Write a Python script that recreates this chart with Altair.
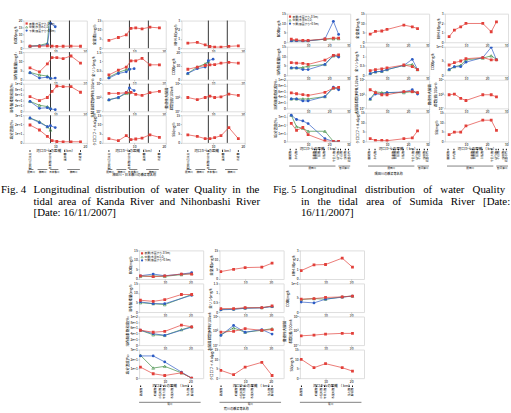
import altair as alt
import pandas as pd

RED, GREEN, BLUE = "#e2403a", "#3d8b42", "#2d5cc4"
JP = "Noto Sans CJK JP"
SERIF = "Liberation Serif"

# ---------------- stations (km from river mouth) ----------------
F4_KM_S = [2, 5, 7.5, 9, 10.5, 12.5, 15, 18]
F4_KM_M = [2, 5, 7.5, 8.5]
F4_KM_B = [2, 5, 7.5, 8.5, 10]
F5_KM = [2, 4.5, 7.5, 10, 18, 22, 24.5]
F6_KM = [0.5, 5.5, 10, 16.5, 20.5]

# ---------------- Fig 4 : Kanda / Nihonbashi ----------------
F4_BOD_S = [1.5, 1.4, 1.6, 1.5, 1.3, 1.4, 1.5, 1.4]
F4_BOD_M = [1.5, 2.0, 3.5, 30.0]
F4_BOD_B = [1.4, 1.7, 2.5, 18.0, 15.5]
F4_TN_S = [4.2, 5.8, 7.2, 10.8, 11.0, 10.5, 11.4, 11.0]
F4_NH4_S = [0.55, 0.62, 0.35, 0.18, 0.12, 0.12, 0.2, 0.25]
F4_DO_S = [6.4, 4.3, 8.6, 12.0, 12.0, 11.5, 12.9, 9.0]
F4_DO_M = [4.0, 2.6, 2.0, 1.0]
F4_DO_B = [3.8, 0.9, 1.4, 0.7, 0.9]
F4_TP_S = [0.26, 0.52, 0.69, 1.03, 1.03, 1.16, 0.81, 0.81]
F4_TP_M = [0.14, 0.40, 0.55, 0.60]
F4_TP_B = [0.09, 0.34, 0.43, 0.57, 0.60]
F4_COD_S = [7.6, 9.2, 10.3, 10.8, 11.0, 12.0, 12.6, 12.0]
F4_COD_M = [4.6, 9.2, 11.5, 13.3]
F4_COD_B = [4.6, 8.0, 9.2, 13.8, 14.9]
F4_DOS_S = [53, 39, 50, 72, 91, 89, 89, 69]
F4_DOS_M = [36, 22, 17, 11]
F4_DOS_B = [36, 11, 13, 9, 6]
F4_COLI_S = [3.6, 3.6, 3.7, 3.75, 3.45, 3.3, 3.7, 3.9]
F4_COLI_M = [2.7, 3.0, 3.6, 3.7]
F4_COLI_B = [2.65, 3.0, 3.75, 4.4, 4.0]
F4_FCOLI_S = [3.0, 2.7, 3.0, 3.2, 3.0, 3.1, 3.5, 3.3]
F4_SAL_S = [19.4, 14.0, 7.0, 2.5, 1.5, 1.2, 1.2, 1.2]
F4_SAL_M = [27.0, 23.0, 17.6, 14.0]
F4_SAL_B = [27.0, 22.0, 17.6, 18.7, 16.6]
F4_CHL_S = [2.3, 1.2, 3.9, 1.8, 2.1, 2.6, 4.4, 3.0]
F4_SS_S = [4.4, 3.5, 2.3, 2.3, 2.8, 3.9, 8.3, 2.3]
F4_VLINES = [8.5, 14.5]

# ---------------- Fig 5 : Sumida ----------------
F5_BOD_S = [1.6, 1.2, 1.0, 1.0, 1.7, 2.2, 2.2]
F5_BOD_M = [0.8, 0.9, 0.7, 0.8, 1.6, 1.8, 1.9]
F5_BOD_B = [0.6, 0.7, 0.6, 0.7, 1.7, 11.0, 4.1]
F5_TN_S = [4.3, 5.7, 5.9, 6.7, 9.0, 8.1, 7.2]
F5_NH4_S = [0.59, 1.28, 1.62, 1.97, 1.97, 1.1, 2.14]
F5_DO_S = [6.6, 6.4, 6.3, 5.7, 8.0, 10.5, 10.7]
F5_DO_M = [3.9, 3.9, 4.1, 4.8, 5.7, 10.2, 10.2]
F5_DO_B = [3.9, 3.9, 3.0, 3.0, 5.7, 10.5, 9.6]
F5_TP_S = [0.25, 0.30, 0.34, 0.39, 0.54, 0.45, 0.30]
F5_TP_M = [0.09, 0.18, 0.21, 0.30, 0.52, 0.57, 0.30]
F5_TP_B = [0.09, 0.18, 0.21, 0.30, 0.52, 0.84, 0.30]
F5_COD_S = [3.6, 4.4, 5.0, 5.8, 6.2, 5.4, 5.4]
F5_COD_M = [2.0, 3.0, 3.5, 5.4, 6.0, 6.8, 5.6]
F5_COD_B = [2.0, 3.0, 3.0, 4.6, 6.2, 9.8, 5.4]
F5_DOS_S = [54, 51, 48, 45, 56, 71, 73]
F5_DOS_M = [33, 33, 33, 33, 41, 71, 71]
F5_DOS_B = [33, 33, 26, 26, 41, 74, 65]
F5_COLI_S = [3.6, 3.2, 2.9, 2.9, 3.35, 3.35, 3.2]
F5_COLI_M = [2.3, 3.3, 3.2, 3.2, 3.2, 3.35, 3.2]
F5_COLI_B = [2.3, 3.0, 3.0, 3.2, 3.3, 3.6, 3.0]
F5_FCOLI_S = [2.9, 3.0, 2.4, 2.1, 2.9, 2.9, 2.6]
F5_SAL_S = [22.0, 13.6, 17.0, 8.2, 0.5, 0.0, 0.0]
F5_SAL_M = [32.0, 18.0, 16.0, 12.4, 12.4, 0.0, 0.0]
F5_SAL_B = [32.0, 26.8, 25.0, 21.8, 3.3, 0.0, 0.0]
F5_CHL_S = [1.4, 0.5, 0.5, 0.35, 1.4, 1.8, 5.5]
F5_SS_S = [3.5, 4.9, 4.9, 8.1, 11.1, 11.1, 5.8]

# ---------------- Fig 6 : Arakawa ----------------
F6_BOD_S = [1.7, 1.2, 1.6, 2.6, 2.6]
F6_BOD_M = [1.4, 1.6, 1.4, 2.3, 2.9]
F6_BOD_B = [1.7, 2.6, 1.7, 2.6, 3.3]
F6_TN_S = [3.9, 5.1, 6.0, 6.2, 8.3]
F6_NH4_S = [0.88, 1.48, 1.52, 2.19, 1.24]
F6_DO_S = [6.2, 5.6, 6.5, 9.2, 9.2]
F6_DO_M = [4.9, 4.4, 3.9, None, 9.2]
F6_DO_B = [5.3, 4.4, 4.4, None, 8.8]
F6_TP_S = [0.18, 0.18, 0.23, 0.23, 0.32]
F6_TP_M = [0.14, 0.16, 0.21, 0.23, 0.30]
F6_TP_B = [0.12, 0.14, 0.20, 0.22, 0.29]
F6_COD_S = [4.5, 4.7, 5.1, 5.3, 5.6]
F6_COD_M = [4.4, 4.7, 4.5, 5.3, 5.6]
F6_COD_B = [3.5, 3.2, 4.5, 5.2, 5.6]
F6_DOS_S = [52, 45, 48, 70, 64]
F6_DOS_M = [52, 36, 34, 54, 64]
F6_DOS_B = [52, 40, 34, None, 63]
F6_COLI_S = [2.83, 2.93, 3.3, 3.07, 3.17]
F6_COLI_M = [2.45, 3.4, 2.8, 3.07, 3.3]
F6_COLI_B = [2.35, 3.75, 2.8, 3.17, 2.54]
F6_FCOLI_S = [2.3, 2.4, 2.54, 2.64, 2.64]
F6_SAL_S = [11.6, 4.6, 2.8, 5.6, 0.0]
F6_SAL_M = [24.0, 10.6, 12.4, 5.6, 0.0]
F6_SAL_B = [23.3, 23.3, 17.0, 6.4, 0.0]
F6_CHL_S = [4.1, 1.8, 5.8, 8.3, 1.4]
F6_SS_S = [9.9, 5.5, 7.6, 5.5, 3.7]

# ---------------- labels ----------------
T_BOD, T_TN, T_NH4 = "BOD(mg/l)", "全窒素(mg/l)", "NH4-N(mg/l)"
T_DO, T_TP, T_COD = "溶存酸素量(mg/l)", "全リン(mg/l)", "COD(mg/l)"
T_DOS, T_COLI, T_FCOLI = "溶存酸素飽和度(%)", "大腸菌群数(MPN/100ml)", ["糞便性大腸菌", "群数(個/100ml)"]
T_SAL, T_CHL, T_SS = "塩分濃度(‰)", "クロロフィルa(μg/l)", "SS(mg/l)"
X_TITLE = "河口からの距離 （ km）"
LEG_NAME = ["表層(水面から-0.5m)", "中層(水深の1/2)", "下層(底面から+0.5m)"]

F4_LM_KM = [2, 8.5, 13, 18]
F4_LM_NAME = ["隅田川合流点", "日本橋川分派", "飯田橋", "水道橋"]
F4_BR_A = [1.6, 4.4, 8.4, 13.8]
F4_BR_B = [3.1, 7.5, 11.0, 17.8]
F4_BR_NAME = ["隅田川", "神田川", "日本橋川", "神田川"]
F4_BOTTOM = "神田川・日本橋川の橋梁等名称"

F5_LM_KM = [1.5, 4.3, 13, 13.8, 15.4, 17.7, 22.3, 24.3, 25.4, 27.7, 29.2]
F5_LM_NAME = ["勝鬨橋", "永代橋", "吾妻橋", "言問橋", "桜橋", "白鬚橋", "千住大橋", "尾竹橋", "小台橋", "新田橋", "岩淵水門"]
F5_BR_A = [1.0, 24.4]
F5_BR_B = [23.0, 30.0]
F5_BR_NAME = ["隅田川", "新河岸川"]
F5_BOTTOM = "隅田川の橋梁等名称"

F6_LM_KM = [0.6, 6.4, 8.3, 9.6, 12.8, 19.2, 20.5]
F6_LM_NAME = ["葛西橋", "船堀橋", "小松川橋", "平井大橋", "木根川橋", "扇大橋", "鹿浜橋"]
F6_BR_A = [0.0]
F6_BR_B = [24.0]
F6_BR_NAME = ["荒川"]
F6_BOTTOM = "荒川の橋梁等名称"

NB = "\u00a0"
CAP4_HEAD = "Fig. 4"
CAP4 = [f"Longitudinal{NB} distribution{NB} of{NB} water{NB} Quality{NB} in{NB} the",
        f"tidal{NB} area{NB} of{NB} Kanda{NB} River{NB} and{NB} Nihonbashi{NB} River",
        "[Date: 16/11/2007]"]
CAP5_HEAD = "Fig. 5"
CAP5 = [f"Longitudinal{NB}{NB} distribution{NB}{NB} of{NB}{NB} water{NB}{NB} Quality",
        f"in{NB}{NB} the{NB}{NB} tidal{NB}{NB} area{NB}{NB} of{NB}{NB} Sumida{NB}{NB} River{NB}{NB} [Date:",
        "16/11/2007]"]

STYLE = {"S": (RED, "square", True), "M": (GREEN, "triangle-up", False), "B": (BLUE, "circle", True)}
ONE = pd.DataFrame({"a": [0]})
HIDDEN = alt.ViewBackground(strokeOpacity=0)


def xenc(dom, ticks, title):
    return alt.X("km:Q", scale=alt.Scale(domain=dom, nice=False, zero=False),
                 axis=alt.Axis(values=ticks, title=title, labelFontSize=3.4, labelPadding=0.4,
                               tickSize=1.2, tickWidth=0.5, domain=False, grid=False,
                               titleFontSize=3.6, titlePadding=0.5, titleFontWeight="normal",
                               labelFont=JP, titleFont=JP, labelColor="black", titleColor="black"))


def yenc(dom, ticks, title, log):
    kw = dict(values=ticks, title=title, labelFontSize=3.4, labelPadding=0.6, tickSize=1.2,
              tickWidth=0.5, domain=False, grid=False, titleFontSize=3.6, titlePadding=0.8,
              titleFontWeight="normal", labelFont=JP, titleFont=JP, labelColor="black",
              titleColor="black")
    if log:
        kw["labelExpr"] = "'10' + ['⁰','¹','²','³','⁴','⁵','⁶','⁷'][datum.value]"
    else:
        kw["format"] = "~g"
    return alt.Y("v:Q", scale=alt.Scale(domain=dom, nice=False, zero=False), axis=alt.Axis(**kw))


def anchor(x1, x2, y1, y2):
    # invisible box that fixes the outer extent of a figure block
    return alt.Chart(ONE).mark_rect(opacity=0).encode(
        x=alt.value(x1), x2=alt.value(x2), y=alt.value(y1), y2=alt.value(y2))


def series_layers(km, vals, kind, X, Y):
    df = pd.DataFrame({"km": km[:len(vals)], "v": vals}).dropna()
    color, shape, filled = STYLE[kind]
    base = alt.Chart(df).encode(x=X, y=Y)
    return [base.mark_line(color=color, strokeWidth=0.7, clip=True),
            base.mark_point(shape=shape, filled=filled, color=color, size=8, strokeWidth=0.6,
                            opacity=1, clip=True)]


def legend_layers():
    out = []
    for i, (name, kind) in enumerate(zip(LEG_NAME, ["S", "M", "B"])):
        color, shape, filled = STYLE[kind]
        yy = 3 + i * 3.6
        out.append(alt.Chart(ONE).mark_point(shape=shape, filled=filled, color=color, size=5,
                                             strokeWidth=0.5, opacity=1)
                   .encode(x=alt.value(3), y=alt.value(yy)))
        out.append(alt.Chart(ONE).mark_text(text=name, align="left", baseline="middle", fontSize=2.8,
                                            font=JP, color="black")
                   .encode(x=alt.value(5.5), y=alt.value(yy)))
    return out


def under_layers(X, H, lm_km, lm_name, br_a, br_b, br_name, br_y):
    out = []
    lm = pd.DataFrame({"km": lm_km, "name": lm_name})
    out.append(alt.Chart(lm).mark_rule(color="black", strokeWidth=1.0)
               .encode(x=X, y=alt.value(H + 7.5), y2=alt.value(H + 9)))
    out.append(alt.Chart(lm).mark_text(angle=270, align="right", baseline="middle", fontSize=2.8,
                                       font=JP, color="black")
               .encode(x=X, y=alt.value(H + 10), text="name:N"))
    br = pd.DataFrame({"km": br_a, "km2": br_b})
    out.append(alt.Chart(br).mark_rule(color="black", strokeWidth=0.5)
               .encode(x=X, x2="km2:Q", y=alt.value(H + br_y)))
    mid = pd.DataFrame({"km": [(a + b) / 2 for a, b in zip(br_a, br_b)], "name": br_name})
    out.append(alt.Chart(mid).mark_text(baseline="top", fontSize=2.6, font=JP, color="black")
               .encode(x=X, y=alt.value(H + br_y + 1.2), text="name:N"))
    return out


def panel(W, H, xdom, xticks, title, ydom, yticks, series, km, log=False, row4=None,
          legend=False, vlines=None, extra=None):
    X = xenc(xdom, xticks, X_TITLE if row4 else "")
    Y = yenc(ydom, yticks, title, log)
    layers = []
    if vlines:
        layers.append(alt.Chart(pd.DataFrame({"km": vlines})).mark_rule(color="black", strokeWidth=0.8)
                      .encode(x=X))
    for kind in ["M", "B", "S"]:
        if kind in series:
            layers += series_layers(km[kind], series[kind], kind, X, Y)
    if legend:
        layers += legend_layers()
    if row4:
        layers += under_layers(X, H, *row4)
    if extra:
        layers += extra
    return alt.layer(*layers).properties(width=W, height=H)


def blank(w, h):
    return anchor(0, w, 0, h).properties(width=w, height=h, view=HIDDEN)


def caption(head, lines, xh, xb, yb, hsize=11):
    return [alt.Chart(ONE).mark_text(text=head, align="left", baseline="alphabetic", font=SERIF,
                                     fontSize=hsize, color="black")
            .encode(x=alt.value(xh), y=alt.value(yb)),
            alt.Chart(ONE).mark_text(text=lines, align="left", baseline="alphabetic", font=SERIF,
                                     fontSize=11, lineHeight=11.6, color="black")
            .encode(x=alt.value(xb), y=alt.value(yb))]


def center_label(text, x, y):
    return [alt.Chart(ONE).mark_text(text=text, align="center", baseline="middle", fontSize=3.2,
                                     font=JP, color="black")
            .encode(x=alt.value(x), y=alt.value(y))]


def grid(cells, hs, vs):
    return alt.concat(*cells, columns=3, spacing={"row": vs, "column": hs}, bounds="flush",
                      align="each")


# ---------------- Fig 4 ----------------
W4, H4 = 64, 28
d4, t4 = [0, 20], [10, 20]
K4 = {"S": F4_KM_S, "M": F4_KM_M, "B": F4_KM_B}
br4 = (F4_LM_KM, F4_LM_NAME, F4_BR_A, F4_BR_B, F4_BR_NAME, 27)
p4 = lambda *a, **k: panel(W4, H4, d4, t4, *a, km=K4, vlines=F4_VLINES, **k)
fig4 = grid([
    blank(W4, 3), blank(W4, 3), blank(W4, 3),
    p4(T_BOD, [0, 20], [0, 5, 10, 15, 20], {"S": F4_BOD_S, "M": F4_BOD_M, "B": F4_BOD_B}, legend=True),
    p4(T_TN, [0, 15], [0, 5, 10, 15], {"S": F4_TN_S}),
    p4(T_NH4, [0, 3], [0, 1, 2, 3], {"S": F4_NH4_S}),
    p4(T_DO, [0, 15], [0, 5, 10, 15], {"S": F4_DO_S, "M": F4_DO_M, "B": F4_DO_B}),
    p4(T_TP, [0, 1.5], [0, 0.5, 1, 1.5], {"S": F4_TP_S, "M": F4_TP_M, "B": F4_TP_B}),
    p4(T_COD, [0, 20], [0, 10, 20], {"S": F4_COD_S, "M": F4_COD_M, "B": F4_COD_B}),
    p4(T_DOS, [0, 100], [0, 20, 40, 60, 80, 100], {"S": F4_DOS_S, "M": F4_DOS_M, "B": F4_DOS_B}),
    p4(T_COLI, [1, 5], [1, 3, 5], {"S": F4_COLI_S, "M": F4_COLI_M, "B": F4_COLI_B}, log=True),
    p4(T_FCOLI, [1, 5], [1, 3, 5], {"S": F4_FCOLI_S}, log=True),
    p4(T_SAL, [0, 30], [0, 10, 20, 30], {"S": F4_SAL_S, "M": F4_SAL_M, "B": F4_SAL_B}, row4=br4,
       extra=caption(CAP4_HEAD, CAP4, -23, 10, 79) + [anchor(-23, 0, H4, 112)]),
    p4(T_CHL, [0, 15], [0, 5, 10, 15], {"S": F4_CHL_S}, row4=br4,
       extra=center_label(F4_BOTTOM, W4 / 2, 61)),
    p4(T_SS, [0, 15], [0, 5, 10, 15], {"S": F4_SS_S}, row4=br4,
       extra=[anchor(0, W4 + 25, H4, 112)]),
], 16, 4)

# ---------------- Fig 5 ----------------
W5, H5 = 64, 29
d5, t5 = [0, 30], [10, 20, 30]
K5 = {"S": F5_KM, "M": F5_KM, "B": F5_KM}
br5 = (F5_LM_KM, F5_LM_NAME, F5_BR_A, F5_BR_B, F5_BR_NAME, 25)
p5 = lambda *a, **k: panel(W5, H5, d5, t5, *a, km=K5, **k)
fig5 = grid([
    p5(T_BOD, [0, 15], [0, 5, 10, 15], {"S": F5_BOD_S, "M": F5_BOD_M, "B": F5_BOD_B}, legend=True,
       extra=[anchor(-16, 0, -10, 0)]),
    p5(T_TN, [0, 15], [0, 5, 10, 15], {"S": F5_TN_S}),
    p5(T_NH4, [0, 3], [0, 1, 2, 3], {"S": F5_NH4_S}),
    p5(T_DO, [0, 15], [0, 5, 10, 15], {"S": F5_DO_S, "M": F5_DO_M, "B": F5_DO_B}),
    p5(T_TP, [0, 1.5], [0, 0.5, 1, 1.5], {"S": F5_TP_S, "M": F5_TP_M, "B": F5_TP_B}),
    p5(T_COD, [0, 10], [0, 5, 10], {"S": F5_COD_S, "M": F5_COD_M, "B": F5_COD_B}),
    p5(T_DOS, [0, 100], [0, 20, 40, 60, 80, 100], {"S": F5_DOS_S, "M": F5_DOS_M, "B": F5_DOS_B}),
    p5(T_COLI, [1, 5], [1, 3, 5], {"S": F5_COLI_S, "M": F5_COLI_M, "B": F5_COLI_B}, log=True),
    p5(T_FCOLI, [1, 5], [1, 3, 5], {"S": F5_FCOLI_S}, log=True),
    p5(T_SAL, [0, 35], [0, 10, 20, 30], {"S": F5_SAL_S, "M": F5_SAL_M, "B": F5_SAL_B}, row4=br5,
       extra=caption(CAP5_HEAD, CAP5, -14, 14, 81.5, hsize=10)),
    p5(T_CHL, [0, 15], [0, 5, 10, 15], {"S": F5_CHL_S}, row4=br5,
       extra=center_label(F5_BOTTOM, 23, 62)),
    p5(T_SS, [0, 15], [0, 5, 10, 15], {"S": F5_SS_S}, row4=br5),
], 16, 4.5)

# ---------------- Fig 6 ----------------
W6, H6 = 65, 29
d6, t6 = [0, 25], [10, 20]
K6 = {"S": F6_KM, "M": F6_KM, "B": F6_KM}
br6 = (F6_LM_KM, F6_LM_NAME, F6_BR_A, F6_BR_B, F6_BR_NAME, 24.5)
p6 = lambda *a, **k: panel(W6, H6, d6, t6, *a, km=K6, **k)
fig6 = grid([
    p6(T_BOD, [0, 15], [0, 5, 10, 15], {"S": F6_BOD_S, "M": F6_BOD_M, "B": F6_BOD_B}, legend=True,
       extra=[anchor(-14, 0, -8, 0)]),
    p6(T_TN, [0, 15], [0, 5, 10, 15], {"S": F6_TN_S}),
    p6(T_NH4, [0, 3], [0, 1, 2, 3], {"S": F6_NH4_S}),
    p6(T_DO, [0, 15], [0, 5, 10, 15], {"S": F6_DO_S, "M": F6_DO_M, "B": F6_DO_B}),
    p6(T_TP, [0, 1.5], [0, 0.5, 1, 1.5], {"S": F6_TP_S, "M": F6_TP_M, "B": F6_TP_B}),
    p6(T_COD, [0, 10], [0, 5, 10], {"S": F6_COD_S, "M": F6_COD_M, "B": F6_COD_B}),
    p6(T_DOS, [0, 100], [0, 20, 40, 60, 80, 100], {"S": F6_DOS_S, "M": F6_DOS_M, "B": F6_DOS_B}),
    p6(T_COLI, [1, 5], [1, 3, 5], {"S": F6_COLI_S, "M": F6_COLI_M, "B": F6_COLI_B}, log=True),
    p6(T_FCOLI, [1, 5], [1, 3, 5], {"S": F6_FCOLI_S}, log=True),
    p6(T_SAL, [0, 30], [0, 10, 20, 30], {"S": F6_SAL_S, "M": F6_SAL_M, "B": F6_SAL_B}, row4=br6),
    p6(T_CHL, [0, 15], [0, 5, 10, 15], {"S": F6_CHL_S}, row4=br6,
       extra=center_label(F6_BOTTOM, 17, 60)),
    p6(T_SS, [0, 15], [0, 5, 10, 15], {"S": F6_SS_S}, row4=br6),
], 16.5, 4.5)

top = alt.hconcat(fig4, fig5, spacing=0)
fig6row = alt.hconcat(blank(1, 1), fig6, spacing=101)

chart = (alt.vconcat(top, fig6row, spacing=15)
         .properties(padding={"left": 0, "top": 0, "right": 0, "bottom": 0}, background="white")
         .configure_view(stroke="black", strokeWidth=0.7)
         .configure(font=JP))

chart.save("out.html", embed_options={"renderer": "svg", "actions": False})
